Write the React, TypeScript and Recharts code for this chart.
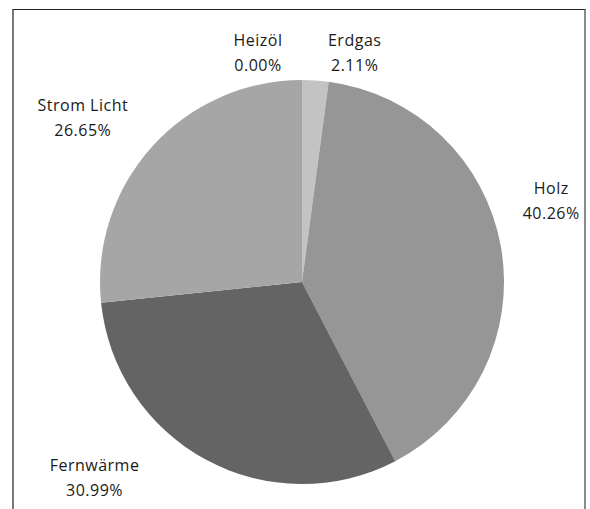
import React from 'react';
import { PieChart, Pie, Cell } from 'recharts';

const categories = ['Heizöl', 'Erdgas', 'Holz', 'Fernwärme', 'Strom Licht'];
const shares = [0.0, 2.11, 40.26, 30.99, 26.65];
const colors = ['#8c8c8c', '#c3c3c3', '#969696', '#646464', '#a6a6a6'];

// label placement adjustments (Excel-style label spreading), relative to the default polar position
const labelNudge: Record<string, [number, number]> = {
  'Heizöl': [-44, 22],
  'Erdgas': [36, 21],
  'Holz': [1, -38],
  'Fernwärme': [-88, -27],
  'Strom Licht': [-32, 4],
};

const data = categories.map((name, i) => ({ name, value: shares[i] }));

const RAD = Math.PI / 180;
const FONT = "'Open Sans', sans-serif";

const renderLabel = (props: any) => {
  const { cx, cy, midAngle, outerRadius, name, value } = props;
  const R = outerRadius + 50;
  const [nx, ny] = labelNudge[name] || [0, 0];
  const x = cx + R * Math.cos(-midAngle * RAD) + nx;
  const y = cy + R * Math.sin(-midAngle * RAD) + ny;
  return (
    <text x={x} y={y} textAnchor="middle" fill="#1a1a1a" fontSize={16} letterSpacing={0.5} fontFamily={FONT}>
      <tspan x={x} y={y - 12} dominantBaseline="central">{name}</tspan>
      <tspan x={x} y={y + 13} dominantBaseline="central">{Number(value).toFixed(2)}%</tspan>
    </text>
  );
};

export default function App() {
  return (
    <div style={{ position: 'absolute', left: 0, top: 0, width: 590, height: 509, background: '#fff', overflow: 'hidden' }}>
      <div
        style={{
          position: 'absolute',
          left: 12,
          top: 9,
          width: 574,
          height: 540,
          borderTop: '1.5px solid #222',
          borderLeft: '2px solid #7a7a7a',
          borderRight: '2px solid #8a8a8a',
          boxSizing: 'border-box',
        }}
      />
      <div style={{ position: 'absolute', left: 0, top: 0 }}>
        <PieChart width={590} height={509} margin={{ top: 0, right: 0, bottom: 0, left: 0 }}>
          <Pie
            data={data}
            dataKey="value"
            nameKey="name"
            cx={302}
            cy={282}
            outerRadius={202}
            startAngle={90}
            endAngle={-270}
            isAnimationActive={false}
            label={renderLabel}
            labelLine={false}
            stroke="none"
          >
            {data.map((d, i) => (
              <Cell key={d.name} fill={colors[i]} />
            ))}
          </Pie>
        </PieChart>
      </div>
    </div>
  );
}
